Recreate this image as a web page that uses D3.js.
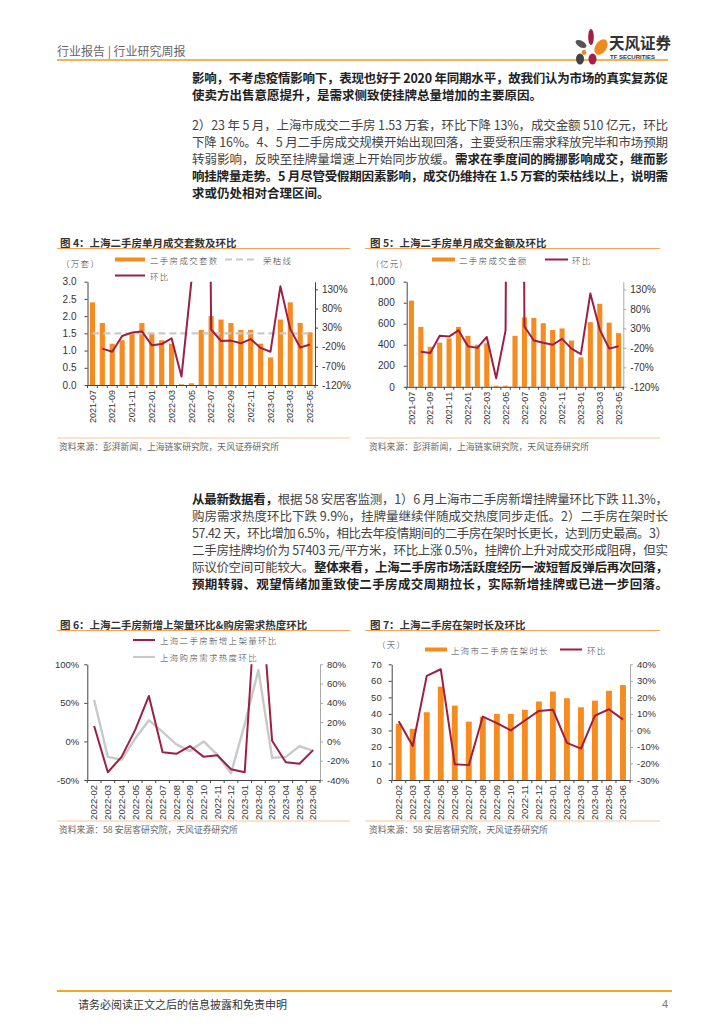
<!DOCTYPE html>
<html><head><meta charset="utf-8">
<script src="https://cdn.jsdelivr.net/npm/d3@7"></script>
<style>
body{margin:0;background:#fff}
svg{display:block}
</style></head>
<body>
<svg id="page" width="724" height="1024"></svg>
<script>
// ---------------- DATA ----------------
const months4 = ["2021-07","2021-08","2021-09","2021-10","2021-11","2021-12","2022-01","2022-02","2022-03","2022-04","2022-05","2022-06","2022-07","2022-08","2022-09","2022-10","2022-11","2022-12","2023-01","2023-02","2023-03","2023-04","2023-05"];
const volume4 = [2.4,1.8,1.2,1.3,1.5,1.8,1.5,1.3,1.2,0.02,0.05,1.6,2.0,1.9,1.8,1.6,1.6,1.2,0.8,1.9,2.4,1.8,1.53];
const volumeMoM4 = [null,-25,-33,8,17,20,-16,-13,2,-98,150,3100,25,-5,-4,-11,0,-23,-33,138,26,-22,-14];
const prosperityLine = 1.5;
const leftTicks4 = [0,0.5,1.0,1.5,2.0,2.5,3.0];
const rightTicks45 = [-120,-70,-20,30,80,130];

const amount5 = [820,570,380,420,460,570,485,400,415,10,10,485,660,655,605,540,555,440,280,615,790,610,510];
const amountMoM5 = [null,-30,-33,11,9,25,-16,-20,8,-98,25,4700,35,-1,-7,-12,3,-22,-36,120,27,-22,-16];
const leftTicks5 = [0,200,400,600,800,1000];

const months67 = ["2022-02","2022-03","2022-04","2022-05","2022-06","2022-07","2022-08","2022-09","2022-10","2022-11","2022-12","2023-01","2023-02","2023-03","2023-04","2023-05","2023-06"];
const listingMoM6 = [20,-40,-20,15,59,-14,-16,-6,-20,-18,-36,-40,240,1,-27,-29,-11.3];
const demandHeatMoM6 = [43,-16,-19,3,22,10,-3,-10,0,-14,-33,18,74,-17,-16,-5,-9.9];
const leftTicks6 = [-50,0,50,100];
const rightTicks6 = [-40,-20,0,20,40,60,80];

const listingDays7 = [34,31,41,56.5,45,35.3,38.3,40,40,42.5,47.5,53.5,49.5,44,48,54,57.42];
const listingDaysMoM7 = [5.5,-9.4,33,37,-20.5,-21,8.4,4.4,0,6,11.8,12.5,-7.5,-11,9,12.8,6.5];
const leftTicks7 = [0,10,20,30,40,50,60,70];
const rightTicks7 = [-30,-20,-10,0,10,20,30,40];

// ---------------- STYLE ----------------
const ORANGE = "#F68B1F", RED = "#9E1F44", GRAY = "#C9C9C9";
const CJK = "'Noto Sans CJK SC','Noto Sans',sans-serif";
const NUM = "'Liberation Sans',Arial,sans-serif";
const svg = d3.select("#page");

// ---------------- HEADER ----------------
svg.append("text").attr("x",57).attr("y",56).attr("font-family",CJK).attr("font-size",12)
  .attr("fill","#666").text("行业报告 | 行业研究周报");
svg.append("line").attr("x1",57).attr("x2",668).attr("y1",60).attr("y2",60)
  .attr("stroke","#F39A1E").attr("stroke-width",1.6);
const logo = svg.append("g");
logo.append("ellipse").attr("cx",591).attr("cy",37).attr("rx",2.8).attr("ry",8).attr("fill","#A61E45");
logo.append("ellipse").attr("cx",601).attr("cy",47).attr("rx",5.5).attr("ry",8.5).attr("transform","rotate(35,601,47)").attr("fill","#F08A1C");
logo.append("ellipse").attr("cx",581).attr("cy",44).attr("rx",6).attr("ry",3.2).attr("transform","rotate(30,581,44)").attr("fill","#555");
logo.append("circle").attr("cx",584).attr("cy",52.5).attr("r",2.4).attr("fill","#F08A1C");
logo.append("ellipse").attr("cx",580).attr("cy",59).attr("rx",4).attr("ry",5.5).attr("fill","#444");
logo.append("ellipse").attr("cx",592.5).attr("cy",59).attr("rx",4).attr("ry",5.5).attr("fill","#A61E45");
logo.append("text").attr("x",609).attr("y",49).attr("font-family",CJK).attr("font-weight","bold")
  .attr("font-size",15.5).attr("fill","#333").text("天风证券");
logo.append("text").attr("x",610).attr("y",59).attr("font-family",NUM).attr("font-weight","bold")
  .attr("font-size",6).attr("fill","#333").text("TF SECURITIES");

// ---------------- BODY TEXT ----------------
const LINE_W = 476;
function para(lines, x, y0, pitch){
  lines.forEach((ln,i)=>{
    const y = y0+i*pitch;
    const els = ln.parts.map(p=> svg.append("text").attr("y",y)
      .attr("font-family",CJK).attr("font-size",12.5).attr("dominant-baseline","central")
      .attr("font-weight",p[1]?"bold":"normal").attr("fill",p[1]?"#222":"#444").text(p[0]));
    const widths = els.map(e=>e.node().getComputedTextLength());
    const lens = ln.parts.map(p=>[...p[0]].length);
    const nChars = d3.sum(lens);
    const extra = ln.full ? (LINE_W - d3.sum(widths))/(nChars-1) : 0;
    let cx = x;
    els.forEach((e,k)=>{
      e.attr("x",cx).attr("letter-spacing",extra);
      cx += widths[k] + extra*lens[k];
    });
  });
}
para([
 {parts:[["影响，不考虑疫情影响下，表现也好于 2020 年同期水平，故我们认为市场的真实复苏促",1]],full:true},
 {parts:[["使卖方出售意愿提升，是需求侧致使挂牌总量增加的主要原因。",1]]}
],192,77,17.5);
para([
 {parts:[["2）23 年 5 月，上海市成交二手房 1.53 万套，环比下降 13%，成交金额 510 亿元，环比",0]],full:true},
 {parts:[["下降 16%。4、5 月二手房成交规模开始出现回落，主要受积压需求释放完毕和市场预期",0]],full:true},
 {parts:[["转弱影响，反映至挂牌量增速上开始同步放缓。",0],["需求在季度间的腾挪影响成交，继而影",1]],full:true},
 {parts:[["响挂牌量走势。5 月尽管受假期因素影响，成交仍维持在 1.5 万套的荣枯线以上，说明需",1]],full:true},
 {parts:[["求或仍处相对合理区间。",1]]}
],192,124,17);
para([
 {parts:[["从最新数据看，",1],["根据 58 安居客监测，1）6 月上海市二手房新增挂牌量环比下跌 11.3%，",0]],full:true},
 {parts:[["购房需求热度环比下跌 9.9%，挂牌量继续伴随成交热度同步走低。2）二手房在架时长",0]],full:true},
 {parts:[["57.42 天，环比增加 6.5%，相比去年疫情期间的二手房在架时长更长，达到历史最高。3）",0]],full:true},
 {parts:[["二手房挂牌均价为 57403 元/平方米，环比上涨 0.5%，挂牌价上升对成交形成阻碍，但实",0]],full:true},
 {parts:[["际议价空间可能较大。",0],["整体来看，上海二手房市场活跃度经历一波短暂反弹后再次回落，",1]],full:true},
 {parts:[["预期转弱、观望情绪加重致使二手房成交周期拉长，实际新增挂牌或已进一步回落。",1]],full:true}
],192,498.5,17);

// ---------------- CHART HELPERS ----------------
function frame(o){
  svg.append("text").attr("x",o.tx).attr("y",o.ty).attr("dominant-baseline","central")
    .attr("font-family",CJK).attr("font-weight","bold").attr("font-size",10.5).attr("fill","#333").text(o.title);
  svg.append("line").attr("x1",o.lx0).attr("x2",o.lx1).attr("y1",o.ty+6).attr("y2",o.ty+6)
    .attr("stroke","#F4A45C").attr("stroke-width",1);
  svg.append("line").attr("x1",o.lx0).attr("x2",o.lx1).attr("y1",o.sy).attr("y2",o.sy)
    .attr("stroke","#F8C69A").attr("stroke-width",1);
  svg.append("text").attr("x",o.tx-1).attr("y",o.sy+8).attr("dominant-baseline","central")
    .attr("font-family",CJK).attr("font-size",8.8).attr("fill","#666").text(o.source);
}
function legendText(x,y,t){
  svg.append("text").attr("x",x).attr("y",y).attr("dominant-baseline","central")
    .attr("font-family",CJK).attr("font-weight",300).attr("font-size",8.5).attr("letter-spacing",1.3)
    .attr("fill","#444").text(t);
}
function legBar(x0,x1,y){ svg.append("rect").attr("x",x0).attr("y",y-2).attr("width",x1-x0).attr("height",4).attr("fill",ORANGE); }
function legLine(x0,x1,y,c,w,dash){
  const l=svg.append("line").attr("x1",x0).attr("x2",x1).attr("y1",y).attr("y2",y).attr("stroke",c).attr("stroke-width",w);
  if(dash) l.attr("stroke-dasharray",dash);
}
let clipId=0;
function combo(o){
  const g = svg.append("g");
  const n = o.cats.length;
  const xb = d3.scaleBand().domain(o.cats).range([o.x0,o.x1]).paddingInner(o.pad).paddingOuter(o.pad/2);
  const cx = c => xb(c)+xb.bandwidth()/2;
  const yL = d3.scaleLinear().domain(o.lDom).range([o.yB,o.yT]);
  const yR = d3.scaleLinear().domain(o.rDom).range([o.yB,o.yT]);
  const id = "clip"+(clipId++);
  g.append("clipPath").attr("id",id).append("rect")
    .attr("x",o.x0).attr("y",o.yT).attr("width",o.x1-o.x0).attr("height",o.yB-o.yT);
  if(o.bars){
    g.selectAll("rect.bar").data(o.bars).join("rect").attr("class","bar")
      .attr("x",(d,i)=>xb(o.cats[i])).attr("width",xb.bandwidth())
      .attr("y",d=>yL(d)).attr("height",d=>yL(0)-yL(d)).attr("fill",ORANGE);
  }
  const la = g.append("g").attr("transform",`translate(${o.x0},0)`)
    .call(d3.axisLeft(yL).tickValues(o.lTicks).tickFormat(o.lFmt).tickSize(3).tickSizeOuter(0).tickPadding(o.lPad));
  const ra = g.append("g").attr("transform",`translate(${o.x1},0)`)
    .call(d3.axisRight(yR).tickValues(o.rTicks).tickFormat(o.rFmt).tickSize(3).tickSizeOuter(0).tickPadding(4));
  [la,ra].forEach((a,k)=>{
    a.select(".domain").attr("stroke",k===0?"#444":o.rColor);
    a.selectAll(".tick line").attr("stroke",k===0?"#444":o.rColor);
    a.selectAll("text").attr("font-family",NUM).attr("font-size",o.fs).attr("fill","#333");
  });
  const xa = g.append("g").attr("transform",`translate(0,${o.yB})`)
    .call(d3.axisBottom(xb).tickSize(0).tickSizeOuter(0).tickPadding(0));
  xa.select(".domain").attr("stroke","#444");
  xa.selectAll(".tick").filter((d,i)=> i%o.every!==0).remove();
  xa.selectAll(".tick text")
    .attr("transform","translate(0,5) rotate(-90)")
    .attr("text-anchor","end").attr("dy","0.35em").attr("y",0)
    .attr("font-family",NUM).attr("font-size",o.xfs).attr("fill","#333");
  g.selectAll("line.bt").data(d3.range(n+1)).join("line").attr("class","bt")
    .attr("x1",i=>o.x0+i*xb.step()).attr("x2",i=>o.x0+i*xb.step())
    .attr("y1",o.yB).attr("y2",o.yB+3).attr("stroke","#444");
  if(o.refLine!=null){
    g.append("path").datum(o.cats)
      .attr("d",d3.line().x(c=>cx(c)).y(()=>yL(o.refLine)))
      .attr("stroke",GRAY).attr("stroke-width",2.2).attr("stroke-dasharray","7,4").attr("fill","none");
  }
  o.lines.forEach(L=>{
    const sc = L.axis==="r"?yR:yL;
    g.append("path").datum(L.data.map((v,i)=>[o.cats[i],v]))
      .attr("clip-path",`url(#${id})`)
      .attr("d",d3.line().defined(d=>d[1]!=null).x(d=>cx(d[0])).y(d=>sc(d[1])))
      .attr("stroke",L.color).attr("stroke-width",L.w).attr("fill","none").attr("stroke-linejoin","round");
  });
}
const pct = d=>d+"%";

// ---------------- FIGURE 4 ----------------
frame({tx:60,ty:242.5,lx0:57,lx1:350,sy:438,title:"图 4：上海二手房单月成交套数及环比",
  source:"资料来源：彭湃新闻，上海链家研究院，天风证券研究所"});
legendText(61,263,"（万套）");
legBar(115,145,259.5); legendText(150,260,"二手房成交套数");
legLine(225,258,259.5,GRAY,2.2,"7,4"); legendText(263,260,"荣枯线");
legLine(115,145,275.5,RED,2); legendText(150,275.5,"环比");
combo({cats:months4,x0:87.5,x1:315,yT:281.7,yB:385,pad:0.48,
  lDom:[0,3],lTicks:leftTicks4,lFmt:d3.format(".1f"),lPad:8,
  rDom:[-120,150],rTicks:rightTicks45,rFmt:pct,rColor:"#444",fs:10,xfs:9,every:2,
  bars:volume4,refLine:prosperityLine,
  lines:[{data:volumeMoM4,axis:"r",color:RED,w:2}]});

// ---------------- FIGURE 5 ----------------
frame({tx:370,ty:242.5,lx0:365,lx1:660,sy:438,title:"图 5：上海二手房单月成交金额及环比",
  source:"资料来源：彭湃新闻，上海链家研究院，天风证券研究所"});
legendText(376,263,"(亿元)");
legBar(432,455,259.5); legendText(459,260,"二手房成交金额");
legLine(545,568,259.5,RED,2); legendText(572,260,"环比");
combo({cats:months4,x0:406.7,x1:623.3,yT:281.7,yB:386.8,pad:0.46,
  lDom:[0,1000],lTicks:leftTicks5,lFmt:d3.format(","),lPad:9,
  rDom:[-120,150],rTicks:rightTicks45,rFmt:pct,rColor:"#AAA",fs:10,xfs:9,every:2,
  bars:amount5,
  lines:[{data:amountMoM5,axis:"r",color:RED,w:2}]});

// ---------------- FIGURE 6 ----------------
frame({tx:60,ty:624.5,lx0:57,lx1:350,sy:821,title:"图 6：上海二手房新增上架量环比&购房需求热度环比",
  source:"资料来源：58 安居客研究院，天风证券研究所"});
legLine(133,155,640,RED,2); legendText(160,640,"上海二手房新增上架量环比");
legLine(133,155,657,GRAY,2.2); legendText(160,657,"上海购房需求热度环比");
combo({cats:months67,x0:87.3,x1:320,yT:664.3,yB:780,pad:0.5,
  lDom:[-50,100],lTicks:leftTicks6,lFmt:pct,lPad:5,
  rDom:[-40,80],rTicks:rightTicks6,rFmt:pct,rColor:"#AAA",fs:9.5,xfs:9.5,every:1,
  lines:[{data:demandHeatMoM6,axis:"r",color:GRAY,w:2.4},{data:listingMoM6,axis:"l",color:RED,w:2}]});

// ---------------- FIGURE 7 ----------------
frame({tx:370,ty:624.5,lx0:365,lx1:660,sy:821,title:"图 7：上海二手房在架时长及环比",
  source:"资料来源：58 安居客研究院，天风证券研究所"});
legendText(377,644,"（天）");
legBar(425,447,649.5); legendText(451,649.5,"上海市二手房在架时长");
legLine(560,582,649.5,RED,2); legendText(587,649.5,"环比");
combo({cats:months67,x0:391.7,x1:630,yT:664.3,yB:780,pad:0.58,
  lDom:[0,70],lTicks:leftTicks7,lFmt:d3.format("d"),lPad:7,
  rDom:[-30,40],rTicks:rightTicks7,rFmt:pct,rColor:"#AAA",fs:9.5,xfs:9.5,every:1,
  bars:listingDays7,
  lines:[{data:listingDaysMoM7,axis:"r",color:RED,w:2}]});

// ---------------- FOOTER ----------------
svg.append("line").attr("x1",57).attr("x2",672).attr("y1",991).attr("y2",991).attr("stroke","#F5A623").attr("stroke-width",2);
svg.append("text").attr("x",78).attr("y",1004).attr("dominant-baseline","central").attr("font-family",CJK)
  .attr("font-size",11).attr("fill","#333").text("请务必阅读正文之后的信息披露和免责申明");
svg.append("text").attr("x",668).attr("y",1004).attr("dominant-baseline","central").attr("text-anchor","end")
  .attr("font-family",NUM).attr("font-size",11).attr("fill","#777").text("4");
</script>
</body></html>
